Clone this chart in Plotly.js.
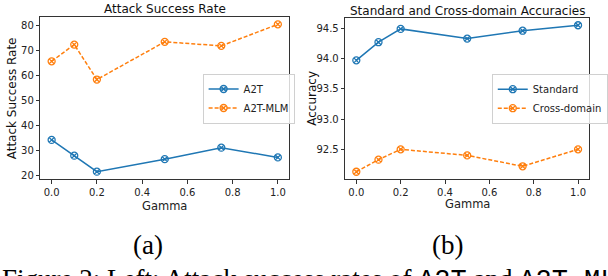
<!DOCTYPE html>
<html>
<head>
<meta charset="utf-8">
<script src="https://cdn.plot.ly/plotly-3.0.1.min.js"></script>
<style>
html,body{margin:0;padding:0;background:#fff;overflow:hidden;}
#chart{width:608px;height:276px;}
</style>
</head>
<body>
<div id="chart"></div>
<script>
// ---- data ----
const gamma = [0.0, 0.1, 0.2, 0.5, 0.75, 1.0];
const a2t = [34.3, 28.0, 21.6, 26.6, 31.2, 27.3];
const a2tMlm = [65.8, 72.5, 58.5, 73.6, 72.0, 80.6];
const standard = [93.97, 94.27, 94.49, 94.33, 94.46, 94.55];
const crossDomain = [92.13, 92.33, 92.50, 92.40, 92.22, 92.50];
const xTicks = [0.0, 0.2, 0.4, 0.6, 0.8, 1.0];
const leftYTicks = [20, 30, 40, 50, 60, 70, 80];
const rightYTicks = [92.5, 93.0, 93.5, 94.0, 94.5];

const W = 608, H = 276;
const px = v => v / W;
const py = v => 1 - v / H;
const blue = '#1f77b4', orange = '#ff7f0e';
const font = 'DejaVu Sans, sans-serif';
const serif = 'Liberation Serif, Times New Roman, serif';

function mk(color) {
  return {symbol: 'circle-x-open', size: 7, color: color, line: {width: 1.3, color: color}};
}

const traces = [
  {x: gamma, y: a2t, name: 'A2T', mode: 'lines+markers', xaxis: 'x', yaxis: 'y',
   line: {color: blue, width: 1.5}, marker: mk(blue), legend: 'legend'},
  {x: gamma, y: a2tMlm, name: 'A2T-MLM', mode: 'lines+markers', xaxis: 'x', yaxis: 'y',
   line: {color: orange, width: 1.5, dash: '4px,2px'}, marker: mk(orange), legend: 'legend'},
  {x: gamma, y: standard, name: 'Standard', mode: 'lines+markers', xaxis: 'x2', yaxis: 'y2',
   line: {color: blue, width: 1.5}, marker: mk(blue), legend: 'legend2'},
  {x: gamma, y: crossDomain, name: 'Cross-domain', mode: 'lines+markers', xaxis: 'x2', yaxis: 'y2',
   line: {color: orange, width: 1.5, dash: '4px,2px'}, marker: mk(orange), legend: 'legend2'}
];

const axBase = {
  showgrid: false, zeroline: false, showline: true, mirror: true,
  linecolor: '#333', linewidth: 1, ticks: 'outside', ticklen: 3.5, tickwidth: 1,
  tickcolor: '#333', tickfont: {family: font, size: 10, color: '#222'}
};

const legBase = {
  xanchor: 'left', yanchor: 'middle', bgcolor: 'rgba(255,255,255,0.8)',
  bordercolor: '#d0d0d0', borderwidth: 1, font: {family: font, size: 10, color: '#222'},
  tracegroupgap: 0, itemwidth: 30
};

const layout = {
  width: W, height: H, margin: {l: 0, r: 0, t: 0, b: 0},
  paper_bgcolor: '#fff', plot_bgcolor: '#fff', showlegend: true,
  xaxis: Object.assign({}, axBase, {domain: [px(41), px(294)], range: [-0.05, 1.05],
    tickvals: xTicks, tickformat: '.1f', anchor: 'y'}),
  yaxis: Object.assign({}, axBase, {domain: [py(179), py(17)], range: [18.65, 83.55],
    tickvals: leftYTicks, anchor: 'x'}),
  xaxis2: Object.assign({}, axBase, {domain: [px(351), px(599)], range: [-0.05, 1.05],
    tickvals: xTicks, tickformat: '.1f', anchor: 'y2'}),
  yaxis2: Object.assign({}, axBase, {domain: [py(179), py(18)], range: [92.01, 94.67],
    tickvals: rightYTicks, tickformat: '.1f', anchor: 'x2'}),
  legend: Object.assign({}, legBase, {x: px(206), y: py(98.5)}),
  legend2: Object.assign({}, legBase, {x: px(500), y: py(98.7)}),
  annotations: [
    {text: 'Attack Success Rate', x: px(167.5), y: py(8.5), xref: 'paper', yref: 'paper',
     showarrow: false, xanchor: 'center', yanchor: 'middle', font: {family: font, size: 12, color: '#111'}},
    {text: 'Standard and Cross-domain Accuracies', x: px(475), y: py(10.5), xref: 'paper', yref: 'paper',
     showarrow: false, xanchor: 'center', yanchor: 'middle', font: {family: font, size: 12, color: '#111'}},
    {text: 'Attack Success Rate', x: px(13), y: py(98.5), xref: 'paper', yref: 'paper', textangle: -90,
     showarrow: false, xanchor: 'center', yanchor: 'middle', font: {family: font, size: 12, color: '#111'}},
    {text: 'Accuracy', x: px(317), y: py(98), xref: 'paper', yref: 'paper', textangle: -90,
     showarrow: false, xanchor: 'center', yanchor: 'middle', font: {family: font, size: 12, color: '#111'}},
    {text: 'Gamma', x: px(167.5), y: py(206), xref: 'paper', yref: 'paper',
     showarrow: false, xanchor: 'center', yanchor: 'middle', font: {family: font, size: 11.5, color: '#222'}},
    {text: 'Gamma', x: px(475), y: py(203.5), xref: 'paper', yref: 'paper',
     showarrow: false, xanchor: 'center', yanchor: 'middle', font: {family: font, size: 11.5, color: '#222'}},
    {text: '(a)', x: px(150), y: py(245), xref: 'paper', yref: 'paper',
     showarrow: false, xanchor: 'center', yanchor: 'middle', font: {family: serif, size: 27, color: '#000'}},
    {text: '(b)', x: px(455), y: py(245), xref: 'paper', yref: 'paper',
     showarrow: false, xanchor: 'center', yanchor: 'middle', font: {family: serif, size: 27, color: '#000'}},
    {text: 'Figure 2: Left: Attack success rates of <span style="font-family:Liberation Mono, monospace">A2T</span> and <span style="font-family:Liberation Mono, monospace">A2T-MLM</span>',
     x: 0, y: py(262), xref: 'paper', yref: 'paper',
     showarrow: false, xanchor: 'left', yanchor: 'top', font: {family: serif, size: 27, color: '#000'}}
  ]
};

Plotly.newPlot('chart', traces, layout, {staticPlot: true, displayModeBar: false});
</script>
</body>
</html>
